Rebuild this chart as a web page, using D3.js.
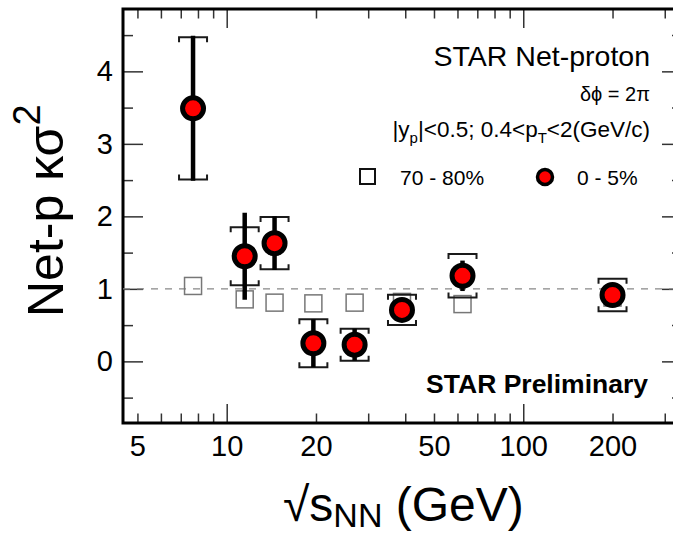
<!DOCTYPE html>
<html>
<head>
<meta charset="utf-8">
<script src="https://cdn.jsdelivr.net/npm/d3@7"></script>
<style>
  body { margin: 0; background: #fff; }
  text { font-family: "Liberation Sans", Arial, Helvetica, sans-serif; }
</style>
</head>
<body>
<div id="chart"></div>
<script>
// Our data
const energies = [7.7, 11.5, 14.5, 19.6, 27, 39, 62.4, 200]
const central = [3.49, 1.45, 1.63, 0.25, 0.23, 0.71, 1.18, 0.915]
const centralStat = [1.0, 0.6, 0.37, 0.33, 0.22, 0.06, 0.21, 0.06]
const centralSys = [0.98, 0.4, 0.36, 0.33, 0.22, 0.21, 0.3, 0.225]
const peripheral = [1.04, 0.855, 0.81, 0.8, 0.81, 0.82, 0.79, 0.88]

const xTicks = [5, 6, 7, 8, 9, 10, 20, 30, 40, 50, 60, 70, 80, 90, 100, 200, 300]
const xMajor = [10, 100]
const xLabels = [5, 10, 20, 50, 100, 200]
const yTicks = [-0.5, 0, 0.5, 1, 1.5, 2, 2.5, 3, 3.5, 4, 4.5]
const yLabels = [0, 1, 2, 3, 4]

// Our canvas
const width = 673,
  height = 533,
  frameLeft = 123,
  frameRight = 682,
  frameTop = 9,
  frameBottom = 423

const svg = d3.select('#chart')
  .append('svg')
  .attr('width', width)
  .attr('height', height)

const x = d3.scaleLog()
  .domain([4.47, 343])
  .range([frameLeft, frameRight])

const y = d3.scaleLinear()
  .domain([-0.85, 4.86])
  .range([frameBottom, frameTop])

// ticks on all four sides
const addAxis = (axis, tr, isMajor, len, vertical) => {
  const g = svg.append('g')
    .attr('transform', tr)
    .call(axis)
  g.select('.domain').remove()
  g.selectAll('.tick line')
    .attr('stroke', '#333')
    .attr('stroke-width', 1.5)
    .attr(vertical ? 'x2' : 'y2', d => isMajor(d) ? len : len / 2)
  g.selectAll('.tick text')
    .attr('font-size', 29)
    .attr('fill', '#000')
  return g
}

const xFmt = d => xLabels.includes(d) ? d : ''
const yFmt = d => yLabels.includes(d) ? d : ''
const isXMajor = d => xMajor.includes(d)
const isYMajor = d => Number.isInteger(d)

addAxis(d3.axisBottom(x).tickValues(xTicks).tickSize(-9).tickPadding(12).tickFormat(xFmt),
  `translate(0,${frameBottom})`, isXMajor, -19, false)
addAxis(d3.axisTop(x).tickValues(xTicks).tickSize(-9).tickFormat(''),
  `translate(0,${frameTop})`, isXMajor, 19, false)
addAxis(d3.axisLeft(y).tickValues(yTicks).tickSize(-10).tickPadding(10).tickFormat(yFmt),
  `translate(${frameLeft},0)`, isYMajor, 20, true)
addAxis(d3.axisRight(y).tickValues(yTicks).tickSize(-10).tickFormat(''),
  `translate(${frameRight},0)`, isYMajor, -20, true)

// frame
svg.append('rect')
  .attr('x', frameLeft)
  .attr('y', frameTop)
  .attr('width', frameRight - frameLeft)
  .attr('height', frameBottom - frameTop)
  .attr('fill', 'none')
  .attr('stroke', '#000')
  .attr('stroke-width', 3)

// reference line at 1
svg.append('line')
  .attr('x1', frameLeft)
  .attr('x2', frameRight)
  .attr('y1', y(1))
  .attr('y2', y(1))
  .attr('stroke', '#888')
  .attr('stroke-width', 1.3)
  .attr('stroke-dasharray', '7,7')

// 70-80% open squares
const sq = 17
svg.selectAll('rect.periph')
  .data(energies)
  .enter()
  .append('rect')
  .attr('class', 'periph')
  .attr('x', d => x(d) - sq / 2)
  .attr('y', (d, i) => y(peripheral[i]) - sq / 2)
  .attr('width', sq)
  .attr('height', sq)
  .attr('fill', 'none')
  .attr('stroke', '#777')
  .attr('stroke-width', 1.5)

// systematic brackets
const bw = 14, leg = 5
const bracket = (xc, yy, dir) => `M${xc - bw},${yy + dir * leg}V${yy}H${xc + bw}V${yy + dir * leg}`
energies.forEach((e, i) => {
  const xc = x(e)
  svg.append('path')
    .attr('d', bracket(xc, y(central[i] + centralSys[i]), 1))
    .attr('fill', 'none').attr('stroke', '#1a1a1a').attr('stroke-width', 2)
  svg.append('path')
    .attr('d', bracket(xc, y(central[i] - centralSys[i]), -1))
    .attr('fill', 'none').attr('stroke', '#1a1a1a').attr('stroke-width', 2)
})

// statistical error bars
svg.selectAll('line.stat')
  .data(energies)
  .enter()
  .append('line')
  .attr('class', 'stat')
  .attr('x1', d => x(d))
  .attr('x2', d => x(d))
  .attr('y1', (d, i) => y(central[i] + centralStat[i]))
  .attr('y2', (d, i) => y(central[i] - centralStat[i]))
  .attr('stroke', '#000')
  .attr('stroke-width', 4.5)

// 0-5% red markers
svg.selectAll('circle.central')
  .data(energies)
  .enter()
  .append('circle')
  .attr('class', 'central')
  .attr('cx', d => x(d))
  .attr('cy', (d, i) => y(central[i]))
  .attr('r', 10.5)
  .attr('fill', '#f00')
  .attr('stroke', '#000')
  .attr('stroke-width', 5)

// labels inside plot
svg.append('text')
  .attr('x', 650).attr('y', 66)
  .attr('text-anchor', 'end').attr('font-size', 28.5)
  .text('STAR Net-proton')

svg.append('text')
  .attr('x', 650).attr('y', 101)
  .attr('text-anchor', 'end').attr('font-size', 20)
  .text('δϕ = 2π')

const cut = svg.append('text')
  .attr('x', 650).attr('y', 137)
  .attr('text-anchor', 'end').attr('font-size', 22.5)
cut.append('tspan').text('|y')
cut.append('tspan').attr('font-size', 15).attr('dy', 6).text('p')
cut.append('tspan').attr('dy', -6).text('|<0.5; 0.4<p')
cut.append('tspan').attr('font-size', 15).attr('dy', 6).text('T')
cut.append('tspan').attr('dy', -6).text('<2(GeV/c)')

// legend
svg.append('rect')
  .attr('x', 360).attr('y', 169).attr('width', 15).attr('height', 15)
  .attr('fill', 'none').attr('stroke', '#111').attr('stroke-width', 2)
svg.append('text')
  .attr('x', 400).attr('y', 185).attr('font-size', 21)
  .text('70 - 80%')
svg.append('circle')
  .attr('cx', 545).attr('cy', 177).attr('r', 7.5)
  .attr('fill', '#f00').attr('stroke', '#000').attr('stroke-width', 3.5)
svg.append('text')
  .attr('x', 577).attr('y', 185).attr('font-size', 21)
  .text('0 - 5%')

svg.append('text')
  .attr('x', 648).attr('y', 393)
  .attr('text-anchor', 'end').attr('font-size', 26.5).attr('font-weight', 'bold')
  .text('STAR Preliminary')

// axis titles
const xt = svg.append('text')
  .attr('x', 283).attr('y', 521).attr('font-size', 48)
xt.append('tspan').text('√s')
xt.append('tspan').attr('font-size', 34).attr('dy', 6).text('NN')
xt.append('tspan').attr('dy', -6).text(' (GeV)')

const yt = svg.append('text')
  .attr('transform', 'translate(63,317) rotate(-90)')
  .attr('font-size', 50)
yt.append('tspan').text('Net-p κσ')
yt.append('tspan').attr('font-size', 38).attr('dy', -23).text('2')
</script>
</body>
</html>
